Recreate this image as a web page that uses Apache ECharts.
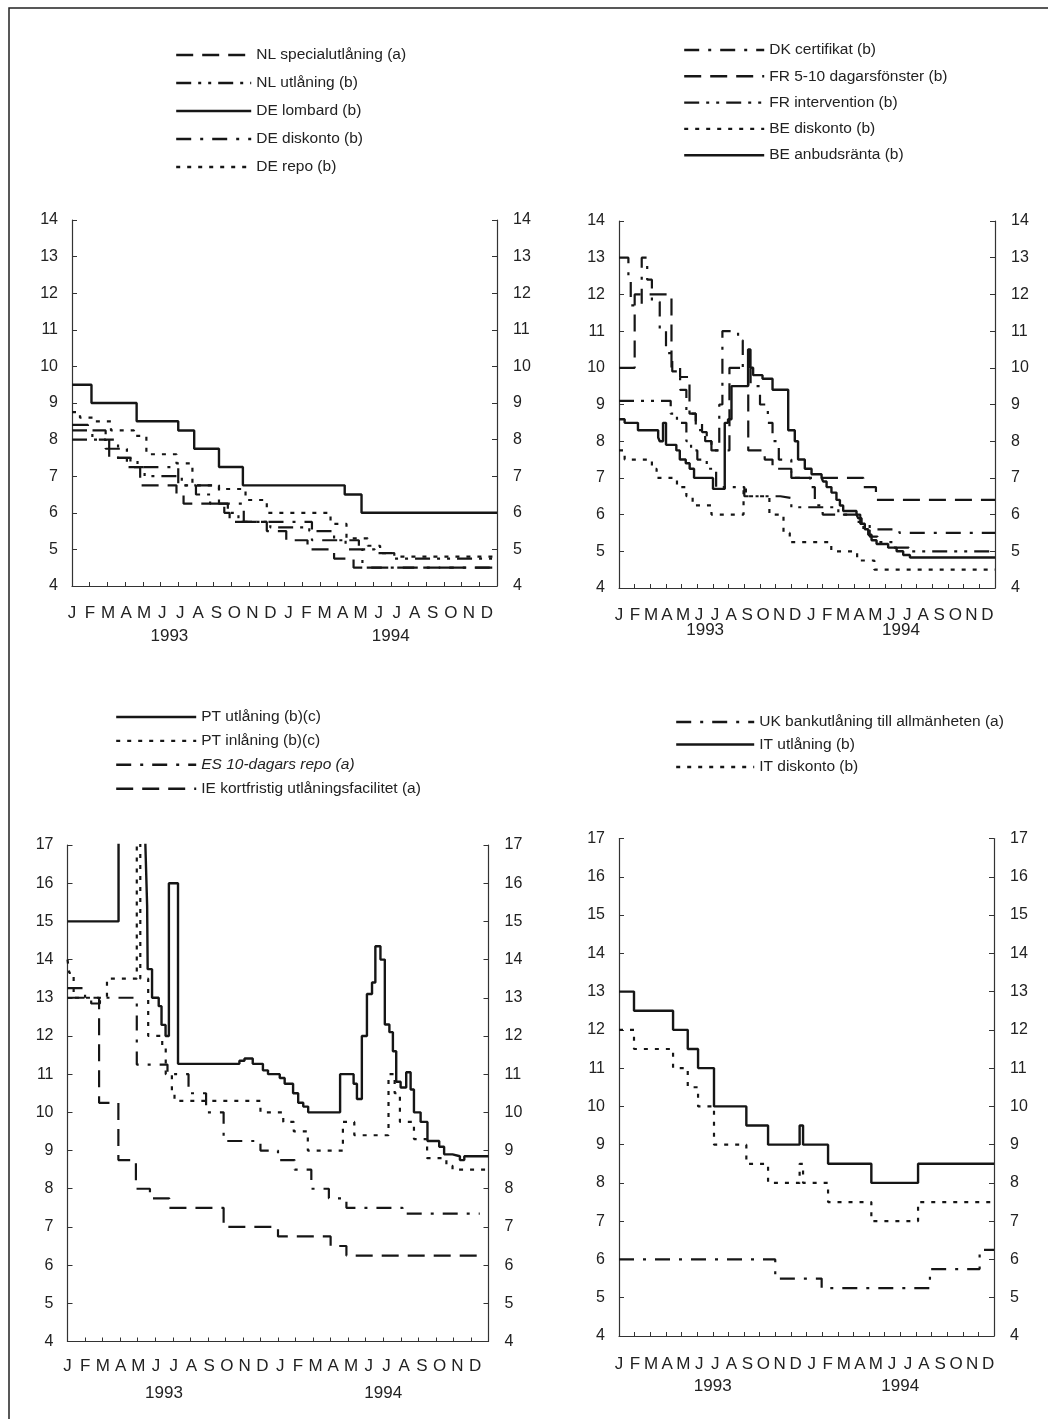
<!DOCTYPE html>
<html><head><meta charset="utf-8">
<script src="https://cdn.jsdelivr.net/npm/echarts@6/dist/echarts.min.js"></script>
<style>html,body{margin:0;padding:0;background:#fff}#c{width:1048px;height:1419px}</style>
</head><body><div id="c"></div>
<script>
// ---------- tick labels ----------
const monthLabels = ['J','F','M','A','M','J','J','A','S','O','N','D','J','F','M','A','M','J','J','A','S','O','N','D'];
const yearLabels = ['1993','1994'];
const yTicksTop = [4,5,6,7,8,9,10,11,12,13,14];
const yTicksBottom = [4,5,6,7,8,9,10,11,12,13,14,15,16,17];

// ---------- data: [month from Jan 1993, rate %] ----------
// Panel 1
const nlSpecial = [[0,8.4],[0.9,8.25],[1.9,8.0],[2.1,7.5],[3.3,7.25],[3.85,6.75],[5.9,6.5],[6.3,6.25],[8.6,6.0],[8.9,5.75],[11.0,5.5],[12.1,5.25],[13.3,5.0],[14.8,4.75],[15.9,4.5],[24,4.5]];
const nlLending = [[0,8.0],[1.9,7.75],[3.1,7.25],[4.1,7.0],[6.2,6.75],[7.0,6.5],[7.8,6.25],[8.8,6.0],[9.4,5.75],[11.2,5.6],[13.4,5.5],[14.8,5.25],[16.2,5.0],[17.1,4.9],[18.1,4.75],[24,4.75]];
const deLombard = [[0,9.5],[1.1,9.0],[3.65,8.5],[6.0,8.25],[6.9,7.75],[8.3,7.25],[9.65,6.75],[15.4,6.5],[16.35,6.0],[24,6.0]];
const deDiscount = [[0,8.25],[1.15,8.0],[2.6,7.5],[3.7,7.25],[6.0,6.75],[8.3,6.25],[9.7,5.75],[13.55,5.25],[15.45,5.0],[16.4,4.5],[24,4.5]];
const deRepo = [[0,8.75],[0.45,8.6],[1.3,8.5],[2.2,8.25],[3.5,8.1],[4.2,7.6],[5.9,7.35],[6.8,6.75],[8.3,6.65],[9.8,6.35],[11.0,6.0],[14.6,5.7],[15.5,5.3],[16.7,5.1],[17.4,4.9],[18.2,4.8],[24,4.8]];
// Panel 2
const dkCert = [[0,13],[0.6,12.4],[0.75,11.7],[1.45,13],[1.8,12.4],[2.1,11.8],[2.6,11.0],[3.0,10.4],[3.4,9.9],[3.9,9.4],[4.3,8.75],[4.9,8.3],[5.5,8.0],[5.9,7.75],[6.4,9.0],[6.6,11.0],[7.6,10.75],[7.9,10.0],[8.4,9.5],[9.0,9.0],[9.5,8.5],[9.8,8.0],[10.2,7.5],[11.0,7.0],[12.2,6.75],[12.5,6.25],[13.0,6.0],[15.4,5.75],[16.0,5.6],[17.9,5.5],[24,5.5]];
const frWindow = [[0,10.0],[1.0,12.0],[3.35,10.0],[3.9,9.75],[4.5,8.75],[4.9,8.5],[5.3,8.25],[5.6,8.0],[5.9,7.75],[7.05,10.0],[8.25,7.75],[9.3,7.5],[9.8,7.25],[11.0,7.0],[15.6,6.75],[16.4,6.4],[24,6.4]];
const frInterv = [[0,9.1],[3.3,8.75],[3.7,8.5],[4.3,8.0],[4.6,7.75],[5.0,7.5],[5.6,7.25],[6.2,6.75],[8.0,6.5],[10.3,6.45],[11.0,6.2],[14.0,6.0],[15.2,5.8],[15.6,5.6],[16.0,5.4],[16.5,5.25],[17.5,5.1],[18.5,5.0],[24,5.0]];
const beDiscount = [[0,7.75],[0.36,7.5],[2.1,7.25],[2.4,7.0],[3.7,6.75],[4.3,6.5],[4.7,6.25],[5.9,6.0],[7.95,6.75],[8.1,6.5],[9.6,6.0],[10.5,5.5],[10.9,5.25],[13.55,5.0],[15.2,4.75],[16.3,4.5],[24,4.5]];
const beTender = [[0,8.6],[0.36,8.5],[1.21,8.3],[2.5,8.1],[2.6,8.0],[2.81,8.5],[3.0,7.9],[3.66,7.75],[3.88,7.5],[4.26,7.4],[4.51,7.25],[4.79,7.0],[6.0,6.7],[6.75,8.5],[6.96,8.6],[7.18,9.5],[8.24,10.5],[8.39,10.0],[8.56,9.8],[9.16,9.7],[9.8,9.4],[10.8,8.3],[11.22,8.0],[11.43,7.5],[11.86,7.25],[12.29,7.1],[12.93,7.0],[13.03,6.9],[13.25,6.75],[13.56,6.6],[13.88,6.4],[14.1,6.25],[14.31,6.1],[15.16,6.0],[15.27,5.9],[15.48,5.75],[15.69,5.6],[15.91,5.45],[16.12,5.3],[16.44,5.2],[17.18,5.1],[17.72,5.0],[18.14,4.9],[18.57,4.83],[24,4.83]];
// Panel 3
const ptLending = [[0,15.0],[2.91,19.5],[4.44,17.0],[4.54,15.4],[4.57,13.75],[4.82,13.0],[5.2,12.78],[5.36,12.29],[5.59,12.0],[5.78,16.0],[6.3,11.27],[9.8,11.35],[10.09,11.41],[10.56,11.27],[11.14,11.1],[11.43,11.0],[12.1,10.9],[12.38,10.75],[12.86,10.5],[13.15,10.25],[13.44,10.15],[13.72,10.0],[15.54,11.0],[16.31,10.75],[16.5,10.35],[16.78,12.0],[17.07,13.1],[17.36,13.4],[17.55,14.35],[17.84,14.0],[18.09,12.3],[18.35,12.1],[18.55,11.6],[18.74,10.8],[18.99,10.65],[19.31,11.05],[19.56,10.6],[19.75,10.0],[20.13,9.75],[20.52,9.25],[21.19,9.1],[21.47,8.9],[21.95,8.85],[22.37,8.75],[22.62,8.85],[24,8.85]];
const ptDeposit = [[0,14.0],[0.1,13.65],[0.35,13.0],[2.25,13.5],[3.95,19.5],[4.15,13.5],[4.6,12.0],[5.4,11.75],[5.6,11.0],[5.95,10.5],[6.1,10.3],[11.0,10.0],[12.3,9.75],[12.9,9.5],[13.7,9.0],[15.7,9.75],[16.35,9.4],[18.3,11.0],[18.65,10.5],[18.95,9.75],[19.75,9.3],[20.5,8.8],[21.6,8.6],[21.95,8.5],[24,8.5]];
const esRepo = [[0,13.25],[1.0,13.0],[1.35,12.85],[1.85,13.0],[3.95,11.25],[5.7,11.0],[6.9,10.5],[7.9,10.0],[8.9,9.25],[11.0,9.0],[12.0,8.75],[12.95,8.5],[13.9,8.0],[14.9,7.75],[15.9,7.5],[19.1,7.35],[23.5,7.35]];
const ieShort = [[0,13.0],[1.8,10.25],[2.9,8.75],[3.9,8.0],[4.7,7.75],[5.8,7.5],[8.9,7.0],[12.0,6.75],[15.0,6.5],[15.9,6.25],[23.7,6.25]];
// Panel 4
const ukBank = [[0,6.0],[10.0,5.5],[12.97,5.25],[19.9,5.75],[23.08,6.25],[24,6.25]];
const itLending = [[0,13],[0.96,12.5],[3.46,12.0],[4.4,11.5],[5.06,11.0],[6.08,10.0],[8.15,9.5],[9.54,9.0],[11.56,9.5],[11.78,9.0],[13.38,8.5],[16.15,8.0],[19.14,8.5],[24,8.5]];
const itDiscount = [[0,12],[0.96,11.5],[3.46,11.0],[4.4,10.5],[5.06,10.0],[6.08,9.0],[8.15,8.5],[9.54,8.0],[11.56,8.5],[11.78,8.0],[13.38,7.5],[16.15,7.0],[19.14,7.5],[24,7.5]];

// ---------- layout / styles ----------
const FONT = "'Liberation Sans', Arial, Helvetica, sans-serif";
const INK = '#161616';
const SOLID = 'solid', DOT = [4,7], LDASH = [17,9], DASHDOT = [15,9,3,9], DASHDOTDOT = [15,7,3,7,3,7];

const panels = [
  {grid:{left:72,top:220,width:425,height:366}, ticks:yTicksTop, monthSpan:23.56, yearPos:[5.5,18], monthMargin:19, yearMargin:42,
   legend:{left:175,top:47,itemWidth:75,itemGap:12},
   series:[['NL specialutlåning (a)',nlSpecial,LDASH],['NL utlåning (b)',nlLending,DASHDOTDOT],['DE lombard (b)',deLombard,SOLID],['DE diskonto (b)',deDiscount,DASHDOT],['DE repo (b)',deRepo,DOT]]},
  {grid:{left:619,top:221,width:376,height:367}, ticks:yTicksTop, monthSpan:23.48, yearPos:[5.5,18], monthMargin:18.5, yearMargin:33.5,
   legend:{left:683,top:42,itemWidth:80,itemGap:10.3},
   series:[['DK certifikat (b)',dkCert,DASHDOT],['FR 5-10 dagarsfönster (b)',frWindow,LDASH],['FR intervention (b)',frInterv,DASHDOTDOT],['BE diskonto (b)',beDiscount,DOT],['BE anbudsränta (b)',beTender,SOLID]]},
  {grid:{left:67.5,top:845,width:421,height:496.5}, ticks:yTicksBottom, monthSpan:23.76, yearPos:[5.5,18], monthMargin:16.7, yearMargin:43,
   legend:{left:115,top:709,itemWidth:80,itemGap:7.9},
   series:[['PT utlåning (b)(c)',ptLending,SOLID],['PT inlåning (b)(c)',ptDeposit,DOT],['ES 10-dagars repo (a)',esRepo,DASHDOT],['IE kortfristig utlåningsfacilitet (a)',ieShort,LDASH]]},
  {grid:{left:619,top:838.5,width:375,height:497.5}, ticks:yTicksBottom, monthSpan:23.36, yearPos:[6,18], monthMargin:19.5, yearMargin:42,
   legend:{left:675,top:714,itemWidth:78,itemGap:6.5},
   series:[['UK bankutlåning till allmänheten (a)',ukBank,DASHDOT],['IT utlåning (b)',itLending,SOLID],['IT diskonto (b)',itDiscount,DOT]]}
];

const grid=[], xAxis=[], yAxis=[], series=[], legend=[];
panels.forEach((p,i)=>{
  grid.push(Object.assign({containLabel:false, outerBoundsMode:'none'}, p.grid));
  const yMin = p.ticks[0], yMax = p.ticks[p.ticks.length-1];
  // data axis
  xAxis.push({type:'value', gridIndex:i, position:'bottom', min:0, max:24, interval:1,
    axisLine:{onZero:false, lineStyle:{color:'#333', width:1.2}},
    axisTick:{inside:true, length:4, lineStyle:{color:'#333', width:1}},
    axisLabel:{show:false}, splitLine:{show:false}});
  // month letters
  xAxis.push({type:'value', gridIndex:i, position:'bottom', min:0, max:p.monthSpan, interval:1,
    axisLine:{show:false, onZero:false}, axisTick:{show:false}, splitLine:{show:false},
    axisLabel:{margin:p.monthMargin, fontSize:17, fontFamily:FONT, color:'#222',
      formatter:v=>{const k=Math.round(v); return (Math.abs(v-k)<1e-6 && k<monthLabels.length)?monthLabels[k]:'';}}});
  // years
  xAxis.push({type:'value', gridIndex:i, position:'bottom', min:0, max:24, interval:0.5,
    axisLine:{show:false, onZero:false}, axisTick:{show:false}, splitLine:{show:false},
    axisLabel:{margin:p.yearMargin, fontSize:17, fontFamily:FONT, color:'#222',
      formatter:v=>{const j=p.yearPos.findIndex(y=>Math.abs(y-v)<1e-6); return j>=0?yearLabels[j]:'';}}});
  ['left','right'].forEach(pos=>{
    yAxis.push({type:'value', gridIndex:i, position:pos, min:yMin, max:yMax, interval:1,
      axisLine:{show:true, onZero:false, lineStyle:{color:'#333', width:1.2}},
      axisTick:{inside:true, length:5, lineStyle:{color:'#333', width:1}},
      splitLine:{show:false},
      axisLabel:{margin: pos==='left'?14:16, fontSize:16, fontFamily:FONT, color:'#222'}});
  });
  const names=[];
  p.series.forEach(([name,data,dash])=>{
    names.push(name==='ES 10-dagars repo (a)'?{name, textStyle:{fontStyle:'italic'}}:{name});
    series.push({type:'line', name, xAxisIndex:i*3, yAxisIndex:i*2, step:'end', symbol:'none', clip:true,
      data, lineStyle:{color:INK, width: dash===SOLID?2.4:2.2, type:dash}, itemStyle:{color:INK},
      emphasis:{disabled:true}, silent:true, animation:false});
  });
  legend.push({orient:'vertical', left:p.legend.left, top:p.legend.top, padding:0,
    itemWidth:p.legend.itemWidth, itemHeight:14, itemGap:p.legend.itemGap, selectedMode:false,
    itemStyle:{color:'rgba(0,0,0,0)', borderWidth:0, opacity:0},
    lineStyle:{width:2.4},
    data:names, textStyle:{fontSize:15.5, lineHeight:16, fontFamily:FONT, color:'#222'}});
});

const chart = echarts.init(document.getElementById('c'), null, {renderer:'canvas'});
chart.setOption({
  backgroundColor:'#fff', animation:false,
  graphic:[{type:'rect', shape:{x:9,y:8,width:1100,height:1500}, style:{fill:'none', stroke:'#222', lineWidth:1.5}, silent:true}],
  grid, xAxis, yAxis, series, legend
});
</script></body></html>
